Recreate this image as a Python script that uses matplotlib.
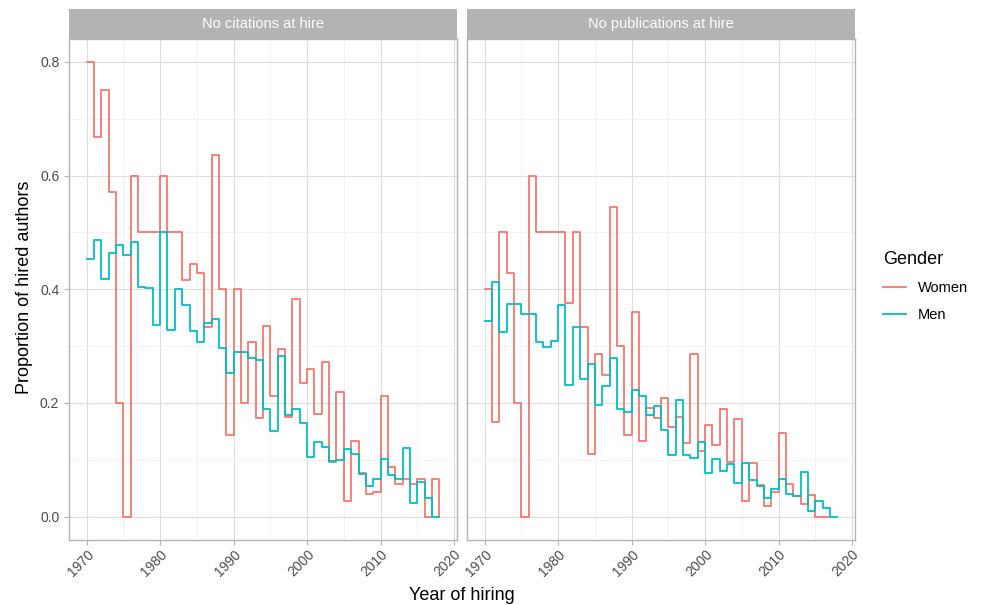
import numpy as np
import matplotlib
matplotlib.use("Agg")
import matplotlib.pyplot as plt
from matplotlib.lines import Line2D

plt.rcParams['font.family'] = ['Liberation Sans', 'DejaVu Sans']

# data
years_cit = np.arange(1970, 2019)
women_cit = [0.8, 0.667, 0.75, 0.571, 0.2, 0.0, 0.6, 0.5, 0.5, 0.5,
             0.6, 0.5, 0.5, 0.417, 0.444, 0.429, 0.333, 0.636, 0.4, 0.143,
             0.4, 0.2, 0.308, 0.174, 0.335, 0.212, 0.295, 0.176, 0.383, 0.236,
             0.26, 0.18, 0.272, 0.097, 0.22, 0.028, 0.134, 0.077, 0.04, 0.043,
             0.213, 0.088, 0.057, 0.067, 0.057, 0.067, 0.0, 0.066, 0.0]
men_cit = [0.453, 0.486, 0.418, 0.463, 0.478, 0.46, 0.483, 0.404, 0.403, 0.338,
           0.5, 0.329, 0.4, 0.372, 0.327, 0.308, 0.341, 0.348, 0.296, 0.253,
           0.289, 0.289, 0.279, 0.276, 0.189, 0.15, 0.283, 0.179, 0.19, 0.165,
           0.105, 0.131, 0.122, 0.098, 0.099, 0.119, 0.11, 0.076, 0.054, 0.067,
           0.101, 0.074, 0.066, 0.121, 0.025, 0.061, 0.033, 0.0, 0.0]

years_pub_w = np.arange(1970, 2018)
women_pub = [0.4, 0.167, 0.5, 0.429, 0.2, 0.0, 0.6, 0.5, 0.5, 0.5,
             0.5, 0.375, 0.5, 0.333, 0.111, 0.286, 0.25, 0.545, 0.3, 0.143,
             0.36, 0.133, 0.192, 0.173, 0.208, 0.158, 0.176, 0.129, 0.286, 0.116,
             0.161, 0.127, 0.189, 0.096, 0.171, 0.027, 0.095, 0.056, 0.019, 0.044,
             0.147, 0.058, 0.037, 0.022, 0.038, 0.0, 0.0, 0.0]
years_pub_m = np.arange(1970, 2019)
men_pub = [0.344, 0.412, 0.324, 0.374, 0.374, 0.356, 0.357, 0.307, 0.299, 0.309,
           0.372, 0.231, 0.334, 0.243, 0.269, 0.196, 0.23, 0.28, 0.19, 0.184,
           0.222, 0.213, 0.179, 0.194, 0.153, 0.108, 0.205, 0.109, 0.104, 0.131,
           0.077, 0.102, 0.08, 0.093, 0.059, 0.094, 0.064, 0.054, 0.033, 0.048,
           0.066, 0.04, 0.036, 0.078, 0.01, 0.028, 0.016, 0.0, 0.0]

panel_titles = ["No citations at hire", "No publications at hire"]
genders = ["Women", "Men"]
colors = {"Women": "#F8766D", "Men": "#00BFC4"}

W, H = 989, 605
fig = plt.figure(figsize=(W / 100, H / 100), dpi=100)


def px_box(x0, y0, x1, y1):
    # pixel box (top-left origin) -> figure fraction rect
    return [x0 / W, 1 - y1 / H, (x1 - x0) / W, (y1 - y0) / H]


panels = [
    (69, 457, [(years_cit, women_cit, "Women"), (years_cit, men_cit, "Men")]),
    (467, 855, [(years_pub_w, women_pub, "Women"), (years_pub_m, men_pub, "Men")]),
]

for i, (x0, x1, series) in enumerate(panels):
    ax = fig.add_axes(px_box(x0, 39, x1, 539.5))
    for xs, ys, g in series:
        ax.step(xs, ys, where='post', color=colors[g], lw=1.3)
    ax.set_xlim(1967.6, 2020.4)
    ax.set_ylim(-0.04, 0.84)
    ax.set_xticks(np.arange(1970, 2021, 10))
    ax.set_xticks(np.arange(1975, 2020, 10), minor=True)
    ax.set_yticks([0, 0.2, 0.4, 0.6, 0.8])
    ax.set_yticks([0.1, 0.3, 0.5, 0.7], minor=True)
    ax.grid(which='major', color='#DEDEDE', lw=0.8)
    ax.grid(which='minor', color='#EEEEEE', lw=0.5)
    ax.set_axisbelow(True)
    for s in ax.spines.values():
        s.set_color('#B3B3B3')
        s.set_linewidth(1.0)
    ax.tick_params(which='minor', length=0)
    ax.tick_params(which='major', length=3.5, color='#B3B3B3', width=0.8,
                   labelsize=10, labelcolor='#4D4D4D', pad=2)
    ax.tick_params(axis='y', pad=3.5)
    for lab in ax.get_xticklabels():
        lab.set_rotation(45)
        lab.set_ha('right')
        lab.set_va('top')
        lab.set_rotation_mode('anchor')
    if i == 0:
        ax.set_yticklabels(['0.0', '0.2', '0.4', '0.6', '0.8'])
    else:
        ax.tick_params(axis='y', left=False, labelleft=False)

    # strip
    sax = fig.add_axes(px_box(x0, 9, x1, 39))
    sax.set_facecolor('#B3B3B3')
    sax.set_xticks([])
    sax.set_yticks([])
    for s in sax.spines.values():
        s.set_visible(False)
    sax.text(0.5, 0.5, panel_titles[i], color='white', fontsize=10.5,
             ha='center', va='center', transform=sax.transAxes)

fig.text(25 / W, 1 - 287 / H, "Proportion of hired authors", rotation=90,
         ha='center', va='center', fontsize=13)
fig.text(462 / W, 1 - 595 / H, "Year of hiring", ha='center', va='center',
         fontsize=13)

handles = [Line2D([], [], color=colors[g], lw=1.3) for g in genders]
leg = fig.legend(handles, genders, loc='upper left',
                 bbox_to_anchor=(870 / W, 1 - 238 / H), frameon=False,
                 title="Gender", fontsize=10.5, title_fontsize=13,
                 handlelength=1.6, handletextpad=0.8, labelspacing=0.9,
                 alignment='left')

fig.savefig("out.png", dpi=100)
